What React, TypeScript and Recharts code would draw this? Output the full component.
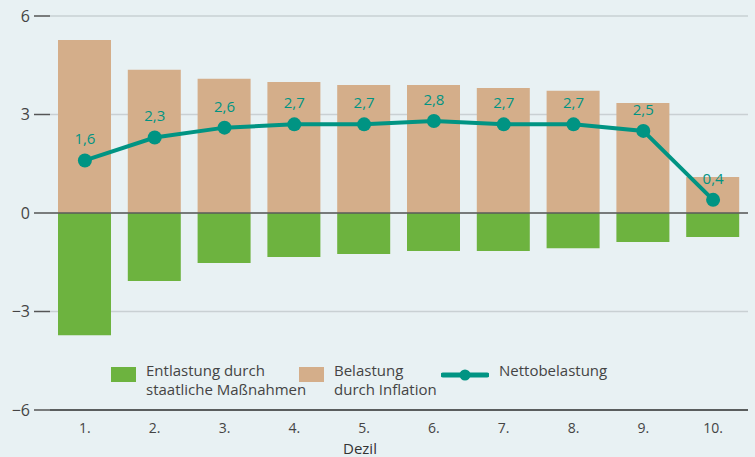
import {
  ComposedChart,
  Bar,
  Line,
  XAxis,
  YAxis,
  CartesianGrid,
  ReferenceLine,
  Legend,
  LabelList,
} from "recharts"

const deciles = ["1.", "2.", "3.", "4.", "5.", "6.", "7.", "8.", "9.", "10."]
const inflationLoad = [5.27, 4.36, 4.09, 3.99, 3.9, 3.9, 3.81, 3.72, 3.35, 1.1]
const reliefMeasures = [-3.72, -2.07, -1.52, -1.34, -1.25, -1.16, -1.16, -1.07, -0.88, -0.73]
const netLoad = [1.6, 2.3, 2.6, 2.7, 2.7, 2.8, 2.7, 2.7, 2.5, 0.4]
const yTicks = [-6, -3, 0, 3, 6]

const GREEN = "#6db33f"
const TAN = "#d4ae8a"
const TEAL = "#009483"
const TEXT = "#444"

const chartData = deciles.map((d, i) => ({
  decile: d,
  relief: reliefMeasures[i],
  inflation: inflationLoad[i],
  net: netLoad[i],
}))

const fmtNum = (v: number) => (v < 0 ? "\u2212" + Math.abs(v) : String(v))

// legend sits inside the plot, below the bars
function ChartLegend() {
  const labelStyle = { fontSize: 15, lineHeight: "19px", color: TEXT, whiteSpace: "pre-line" as const }
  return (
    <div style={{ position: "relative", width: 600, height: 50, top: 5 }}>
      <div style={{ position: "absolute", left: 0, top: 6, width: 25, height: 15, background: GREEN }} />
      <div style={{ ...labelStyle, position: "absolute", left: 35, top: 0 }}>
        {"Entlastung durch\nstaatliche Maßnahmen"}
      </div>
      <div style={{ position: "absolute", left: 188, top: 6, width: 25, height: 15, background: TAN }} />
      <div style={{ ...labelStyle, position: "absolute", left: 223, top: 0 }}>
        {"Belastung\ndurch Inflation"}
      </div>
      <svg style={{ position: "absolute", left: 330, top: 4 }} width={48} height={20}>
        <line x1={2} y1={10} x2={46} y2={10} stroke={TEAL} strokeWidth={5} strokeLinecap="round" />
        <circle cx={24} cy={10} r={5.5} fill={TEAL} />
      </svg>
      <div style={{ ...labelStyle, position: "absolute", left: 388, top: 0 }}>Nettobelastung</div>
    </div>
  )
}

function App() {
  return (
    <div
      style={{
        position: "absolute",
        left: 0,
        top: 0,
        width: 755,
        height: 457,
        background: "#e8f1f3",
        fontFamily: "'Open Sans', sans-serif",
      }}
    >
      <ComposedChart
        width={755}
        height={457}
        data={chartData}
        stackOffset="sign"
        margin={{ top: 16, right: 7, left: 0, bottom: 0 }}
      >
        <CartesianGrid vertical={false} stroke="#c9d0d3" strokeWidth={1.5} />
        <XAxis
          dataKey="decile"
          height={47}
          axisLine={{ stroke: "#333", strokeWidth: 1.5 }}
          tickLine={false}
          tickMargin={7}
          tick={{ fill: TEXT, fontSize: 14 }}
          label={({ viewBox }: any) => (
            <text x={360} y={viewBox.y + viewBox.height - 3} textAnchor="middle" fill="#333" fontSize={15}>
              Dezil
            </text>
          )}
        />
        <YAxis
          domain={[-6, 6]}
          ticks={yTicks}
          width={50}
          axisLine={false}
          tickSize={16}
          tickMargin={4}
          tickLine={{ stroke: "#555", strokeWidth: 1.5 }}
          tickFormatter={fmtNum}
          tick={{ fill: TEXT, fontSize: 16 }}
        />
        <Legend
          layout="horizontal"
          verticalAlign="middle"
          align="center"
          content={() => <ChartLegend />}
          wrapperStyle={{ position: "absolute", left: 111, top: 356, width: 600 }}
        />
        <Bar dataKey="relief" stackId="a" fill={GREEN} barSize={53} isAnimationActive={false} />
        <Bar dataKey="inflation" stackId="a" fill={TAN} barSize={53} isAnimationActive={false} />
        <ReferenceLine y={0} stroke="#5a5a5a" strokeWidth={1.5} />
        <Line
          dataKey="net"
          stroke={TEAL}
          strokeWidth={4}
          dot={{ r: 7, fill: TEAL, stroke: TEAL, strokeWidth: 0 }}
          activeDot={false}
          isAnimationActive={false}
        >
          <LabelList
            dataKey="net"
            position="top"
            offset={16}
            fill={TEAL}
            fontSize={15}
            formatter={(v: any) => String(v).replace(".", ",")}
          />
        </Line>
      </ComposedChart>
    </div>
  )
}

export default App
